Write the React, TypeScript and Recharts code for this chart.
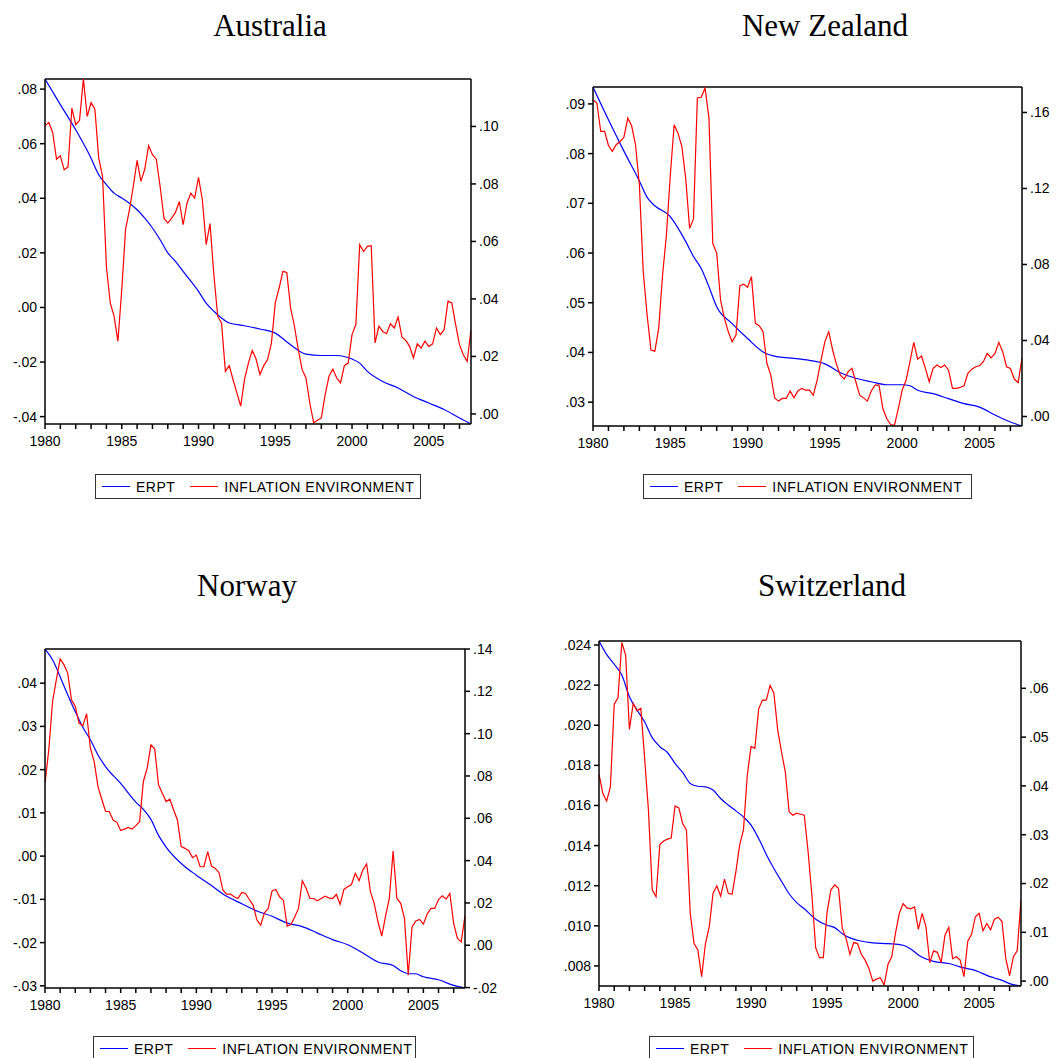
import React from 'react';
import {LineChart, Line, XAxis, YAxis, ReferenceLine} from 'recharts';

// quarterly sample 1980Q1 .. 2007Q4
const quarters = Array.from({length: 112}, (_, i) => 1980 + i / 4);
const yearTicks = Array.from({length: 28}, (_, i) => 1980 + i);

// ---- Australia ----
const auErptTimes = [1980, 1981, 1982, 1983, 1983.5, 1984, 1984.5, 1985, 1985.5, 1986, 1986.5, 1987, 1987.5, 1988, 1988.5, 1989, 1990, 1990.5, 1991, 1991.5, 1992, 1993, 1994, 1995, 1996, 1997, 1998, 1999, 2000, 2000.5, 2001, 2002, 2003, 2004, 2005, 2006, 2007, 2007.75];
const auErptValues = [.0837, .0743, .0651, .0547, .0486, .045, .0419, .0401, .0382, .0358, .0327, .0291, .0248, .02, .0169, .0132, .0059, .0016, -.0014, -.0039, -.0057, -.0067, -.0079, -.0094, -.0137, -.0171, -.0176, -.0176, -.0189, -.0204, -.0234, -.0271, -.0295, -.0326, -.035, -.0374, -.0405, -.0427];
const auInflation = [
    .1002, .1014, .0979, .0886, .0898, .0849, .0859, .1064, .1006, .1021,
    .1165, .1035, .1083, .106, .089, .0826, .0513, .0386, .034, .0253,
    .0432, .0643, .071, .0791, .0882, .0809, .0852, .0933, .0902, .0886,
    .0791, .0681, .0664, .0681, .0701, .0739, .0658, .0733, .0768, .0751,
    .0823, .0745, .0589, .0662, .0484, .034, .0316, .0148, .0168, .0119,
    .0073, .0027, .0122, .0177, .0221, .0191, .0137, .0168, .0189, .0247,
    .0386, .0438, .0496, .0492, .0368, .0305, .0224, .0154, .0125, .0038,
    -.0031, -.0022, -.0014, .0067, .0131, .0156, .0125, .0108, .0168, .0177,
    .0276, .0311, .0589, .0565, .0583, .0585, .0247, .0305, .0287, .0279,
    .0314, .0299, .0337, .0268, .0256, .0235, .0195, .0244, .0229, .0253,
    .0235, .0244, .0299, .0276, .0293, .0392, .0386, .0311, .0241, .0206,
    .0183, .0293,
];
const auLeftTicks = [-.04, -.02, 0, .02, .04, .06, .08];
const auRightTicks = [0, .02, .04, .06, .08, .10];

// ---- New Zealand ----
const nzErptTimes = [1980, 1981, 1982, 1983, 1983.5, 1984, 1985, 1985.5, 1986, 1986.5, 1987, 1987.5, 1988, 1989, 1990, 1991, 1992, 1993, 1994, 1995, 1996, 1997, 1998, 1999, 2000, 2000.5, 2001, 2002, 2003, 2004, 2005, 2006, 2007, 2007.75];
const nzErptValues = [.0934, .0868, .0805, .0745, .0712, .0695, .0673, .065, .0623, .0593, .0569, .0532, .0492, .0458, .0428, .0401, .0391, .0388, .0384, .0377, .0359, .0348, .0341, .0335, .0335, .0333, .0324, .0317, .0307, .0297, .029, .0274, .026, .0252];
const nzInflation = [
    .1667, .165, .150, .150, .1426, .1395, .143, .1447, .147, .157,
    .153, .143, .122, .0762, .0534, .035, .0344, .0464, .0745, .0956,
    .127, .1535, .149, .142, .125, .099, .104, .1676, .168, .1729,
    .157, .091, .086, .0613, .0516, .0446, .0393, .0429, .0689, .0696,
    .068, .0736, .049, .0478, .0446, .0279, .0218, .0098, .0081, .0095,
    .0095, .0134, .0098, .0134, .0148, .0139, .0139, .0112, .0191, .0297,
    .0394, .0446, .035, .0274, .0218, .0197, .0235, .0253, .0183, .0112,
    .0098, .0081, .0134, .0165, .0165, .0042, -.0011, -.0042, -.0046, .0042,
    .0139, .0191, .0288, .039, .0302, .0318, .0253, .0183, .0253, .0271,
    .0258, .0271, .0244, .0148, .0148, .0153, .0162, .0227, .0249, .0262,
    .0267, .0288, .0332, .0309, .0332, .039, .0341, .0262, .0253, .0197,
    .0179, .0309,
];
const nzLeftTicks = [.03, .04, .05, .06, .07, .08, .09];
const nzRightTicks = [0, .04, .08, .12, .16];

// ---- Norway ----
const noErptTimes = [1980, 1980.5, 1981, 1981.5, 1982, 1982.5, 1983, 1983.5, 1984, 1985, 1986, 1986.5, 1987, 1987.5, 1988, 1989, 1990, 1991, 1992, 1993, 1994, 1995, 1996, 1997, 1998, 1999, 2000, 2001, 2002, 2003, 2003.5, 2004, 2004.5, 2005, 2006, 2007, 2007.75];
const noErptValues = [.0479, .0454, .0415, .0373, .0334, .0298, .0269, .0234, .0207, .0168, .0125, .0108, .0085, .0048, .0021, -.0017, -.0044, -.0068, -.0093, -.011, -.0127, -.0139, -.0155, -.0163, -.0178, -.0193, -.0205, -.0224, -.0245, -.0253, -.0265, -.0272, -.0272, -.0279, -.0286, -.0299, -.0305];
const noInflation = [
    .0766, .0923, .1152, .1255, .1353, .1326, .1286, .116, .1129, .105,
    .1037, .1094, .0931, .0868, .075, .069, .0632, .0632, .0592, .0581,
    .0542, .0549, .0557, .0549, .0565, .0584, .0774, .0837, .0947, .0927,
    .0758, .0718, .0679, .069, .0639, .0592, .0466, .0458, .0447, .0414,
    .0426, .0371, .0371, .0442, .0374, .0363, .0343, .0261, .0242, .0242,
    .0229, .0221, .025, .0245, .0216, .019, .0119, .0095, .0153, .0174,
    .0257, .0264, .0229, .0213, .009, .0098, .0134, .0174, .0305, .0269,
    .0221, .0221, .021, .0221, .0232, .0224, .0221, .024, .0194, .0264,
    .0276, .0287, .034, .0305, .0355, .0384, .0253, .0198, .0111, .0043,
    .0138, .0221, .0445, .0221, .0198, .0127, -.0142, .0087, .0115, .0122,
    .010, .0147, .0174, .0174, .0216, .0234, .0218, .0245, .0103, .0032,
    .0016, .0139,
];
const noLeftTicks = [-.03, -.02, -.01, 0, .01, .02, .03, .04];
const noRightTicks = [-.02, 0, .02, .04, .06, .08, .10, .12, .14];

// ---- Switzerland ----
const chErptTimes = [1980, 1980.5, 1981, 1981.5, 1982, 1982.5, 1983, 1983.5, 1984, 1984.5, 1985, 1985.5, 1986, 1986.5, 1987, 1987.5, 1988, 1988.5, 1989, 1989.5, 1990, 1990.5, 1991, 1991.5, 1992, 1992.5, 1993, 1993.5, 1994.25, 1995, 1995.5, 1996, 1996.5, 1997, 1998, 1999, 2000, 2000.5, 2001, 2002, 2003, 2004, 2004.5, 2005, 2005.5, 2006, 2006.5, 2007, 2007.75];
const chErptValues = [.0242, .02353, .02304, .0225, .02142, .02076, .02017, .01938, .01893, .01864, .0181, .01765, .0171, .01696, .01693, .01677, .01635, .01602, .01573, .01543, .01502, .01435, .01356, .01286, .01222, .0116, .01116, .01085, .01033, .01003, .00991, .00961, .0094, .00928, .00915, .00911, .00903, .00885, .00855, .00823, .00812, .0079, .00783, .0077, .00753, .0074, .00728, .00712, .0070];
const chInflation = [
    .0424, .0385, .0369, .0398, .0567, .0581, .0694, .0668, .0516, .0569,
    .0554, .0559, .0457, .0351, .0187, .0173, .028, .0287, .0291, .0293,
    .0359, .0355, .0323, .031, .0139, .0077, .0064, .0009, .0077, .0111,
    .018, .0195, .0174, .0209, .018, .0178, .0224, .0279, .031, .0422,
    .0481, .0477, .0558, .0576, .0576, .0606, .059, .0515, .047, .0429,
    .0347, .034, .0344, .0342, .034, .0265, .0176, .0068, .0048, .0048,
    .0142, .0187, .0197, .019, .0108, .0087, .0055, .0079, .0077, .0055,
    .0043, .0026, .0000, .0004, .0007, -.0008, .0034, .005, .0099, .0139,
    .0159, .015, .0148, .0152, .0106, .0139, .0111, .0038, .0062, .0059,
    .0038, .0094, .011, .0046, .005, .0043, .0009, .0082, .0096, .0132,
    .0139, .0103, .0118, .0105, .0127, .0131, .0122, .0046, .0011, .005,
    .0062, .0166,
];
const chLeftTicks = [.008, .010, .012, .014, .016, .018, .020, .022, .024];
const chRightTicks = [0, .01, .02, .03, .04, .05, .06];

const AXIS_FONT = '"Liberation Sans", Arial, sans-serif';
const LEFT_W = 45;
const RIGHT_W = 34;
const TOP_PAD = 10;
const X_H = 30;

const fmt = (v: number, digits: number) => v.toFixed(digits).replace(/^(-?)0\./, '$1.');

interface Box { l: number; t: number; r: number; b: number; }

interface PanelProps {
    title: string;
    titleX: number;
    titleTop: number;
    plot: Box;
    legend: { left: number; top: number; width: number };
    erptTimes: number[];
    erptValues: number[];
    inflation: number[];
    leftDomain: [number, number];
    leftTicks: number[];
    leftDigits: number;
    rightDomain: [number, number];
    rightTicks: number[];
    rightDigits: number;
}

const ChartLegend: React.FC<{ left: number; top: number; width: number }> = ({left, top, width}) => (
    <div style={{
        position: 'absolute', left, top, width, height: 25, boxSizing: 'border-box',
        border: '1px solid #333', display: 'flex', alignItems: 'center', paddingLeft: 6,
        fontFamily: AXIS_FONT, fontSize: 14, letterSpacing: 0.5, lineHeight: '16px', color: '#000', background: '#fff'
    }}>
        <span style={{width: 28, height: 1.5, background: '#0000ff', marginRight: 6}}/>
        <span>ERPT</span>
        <span style={{width: 28, height: 1.5, background: '#ff0000', marginLeft: 15, marginRight: 6}}/>
        <span>INFLATION ENVIRONMENT</span>
    </div>
);

const Panel: React.FC<PanelProps> = (p) => {
    const width = p.plot.r - p.plot.l + LEFT_W + RIGHT_W;
    const height = p.plot.b - p.plot.t + TOP_PAD + X_H;
    const erptData = p.erptTimes.map((t, i) => ({t, v: p.erptValues[i]}));
    const inflData = quarters.map((t, i) => ({t, v: p.inflation[i]}));
    const tickStyle = {fill: '#000', fontSize: 14, fontFamily: AXIS_FONT};

    return (
        <>
            <div style={{
                position: 'absolute', left: p.titleX - 150, width: 300, top: p.titleTop, textAlign: 'center',
                fontFamily: '"Liberation Serif", "Times New Roman", serif', fontSize: 31, lineHeight: 1, color: '#000'
            }}>{p.title}</div>
            <div style={{position: 'absolute', left: p.plot.l - LEFT_W, top: p.plot.t - TOP_PAD}}>
                <LineChart width={width} height={height} margin={{top: TOP_PAD, right: 0, bottom: 0, left: 0}}>
                    <XAxis
                        type="number" dataKey="t" domain={[1980, 2007.75]} allowDataOverflow
                        ticks={yearTicks} interval={0} height={X_H}
                        tickFormatter={(v: number) => (v % 5 === 0 ? String(v) : '')}
                        tickSize={5} tickMargin={7} stroke="#000" strokeWidth={1.5} tick={tickStyle}
                    />
                    <YAxis
                        yAxisId="left" type="number" domain={p.leftDomain} allowDataOverflow
                        ticks={p.leftTicks} interval={0} width={LEFT_W}
                        tickFormatter={(v: number) => fmt(v, p.leftDigits)}
                        tickSize={5} tickMargin={3} stroke="#000" strokeWidth={1.5} tick={tickStyle}
                    />
                    <YAxis
                        yAxisId="right" orientation="right" type="number" domain={p.rightDomain} allowDataOverflow
                        ticks={p.rightTicks} interval={0} width={RIGHT_W}
                        tickFormatter={(v: number) => fmt(v, p.rightDigits)}
                        tickSize={5} tickMargin={3} stroke="#000" strokeWidth={1.5} tick={tickStyle}
                    />
                    <ReferenceLine yAxisId="left" y={p.leftDomain[1]} stroke="#000" strokeWidth={1.5} ifOverflow="visible"/>
                    <Line yAxisId="left" data={erptData} dataKey="v" name="ERPT" type="monotone"
                          stroke="#0000ff" strokeWidth={1.2} dot={false} isAnimationActive={false}/>
                    <Line yAxisId="right" data={inflData} dataKey="v" name="INFLATION ENVIRONMENT" type="linear"
                          stroke="#ff0000" strokeWidth={1.2} dot={false} isAnimationActive={false}/>
                </LineChart>
            </div>
            <ChartLegend {...p.legend}/>
        </>
    );
};

export default function App() {
    return (
        <div style={{position: 'fixed', left: 0, top: 0, width: 1057, height: 1058, overflow: 'hidden', background: '#fff'}}>
            <Panel
                title="Australia" titleX={270} titleTop={10}
                plot={{l: 45, t: 79, r: 471, b: 424}}
                legend={{left: 95, top: 474, width: 326}}
                erptTimes={auErptTimes} erptValues={auErptValues} inflation={auInflation}
                leftDomain={[-0.0427, 0.0837]} leftTicks={auLeftTicks} leftDigits={2}
                rightDomain={[-0.0035, 0.1165]} rightTicks={auRightTicks} rightDigits={2}
            />
            <Panel
                title="New Zealand" titleX={825} titleTop={10}
                plot={{l: 593, t: 87, r: 1022, b: 426}}
                legend={{left: 643, top: 474, width: 329}}
                erptTimes={nzErptTimes} erptValues={nzErptValues} inflation={nzInflation}
                leftDomain={[0.0252, 0.0934]} leftTicks={nzLeftTicks} leftDigits={2}
                rightDomain={[-0.005, 0.1734]} rightTicks={nzRightTicks} rightDigits={2}
            />
            <Panel
                title="Norway" titleX={247} titleTop={570}
                plot={{l: 45, t: 649, r: 465, b: 988}}
                legend={{left: 93, top: 1036, width: 323}}
                erptTimes={noErptTimes} erptValues={noErptValues} inflation={noInflation}
                leftDomain={[-0.0305, 0.0479]} leftTicks={noLeftTicks} leftDigits={2}
                rightDomain={[-0.0202, 0.14]} rightTicks={noRightTicks} rightDigits={2}
            />
            <Panel
                title="Switzerland" titleX={832} titleTop={570}
                plot={{l: 599, t: 641, r: 1021, b: 986}}
                legend={{left: 649, top: 1036, width: 325}}
                erptTimes={chErptTimes} erptValues={chErptValues} inflation={chInflation}
                leftDomain={[0.0070, 0.0242]} leftTicks={chLeftTicks} leftDigits={3}
                rightDomain={[-0.001, 0.0697]} rightTicks={chRightTicks} rightDigits={2}
            />
        </div>
    );
}
